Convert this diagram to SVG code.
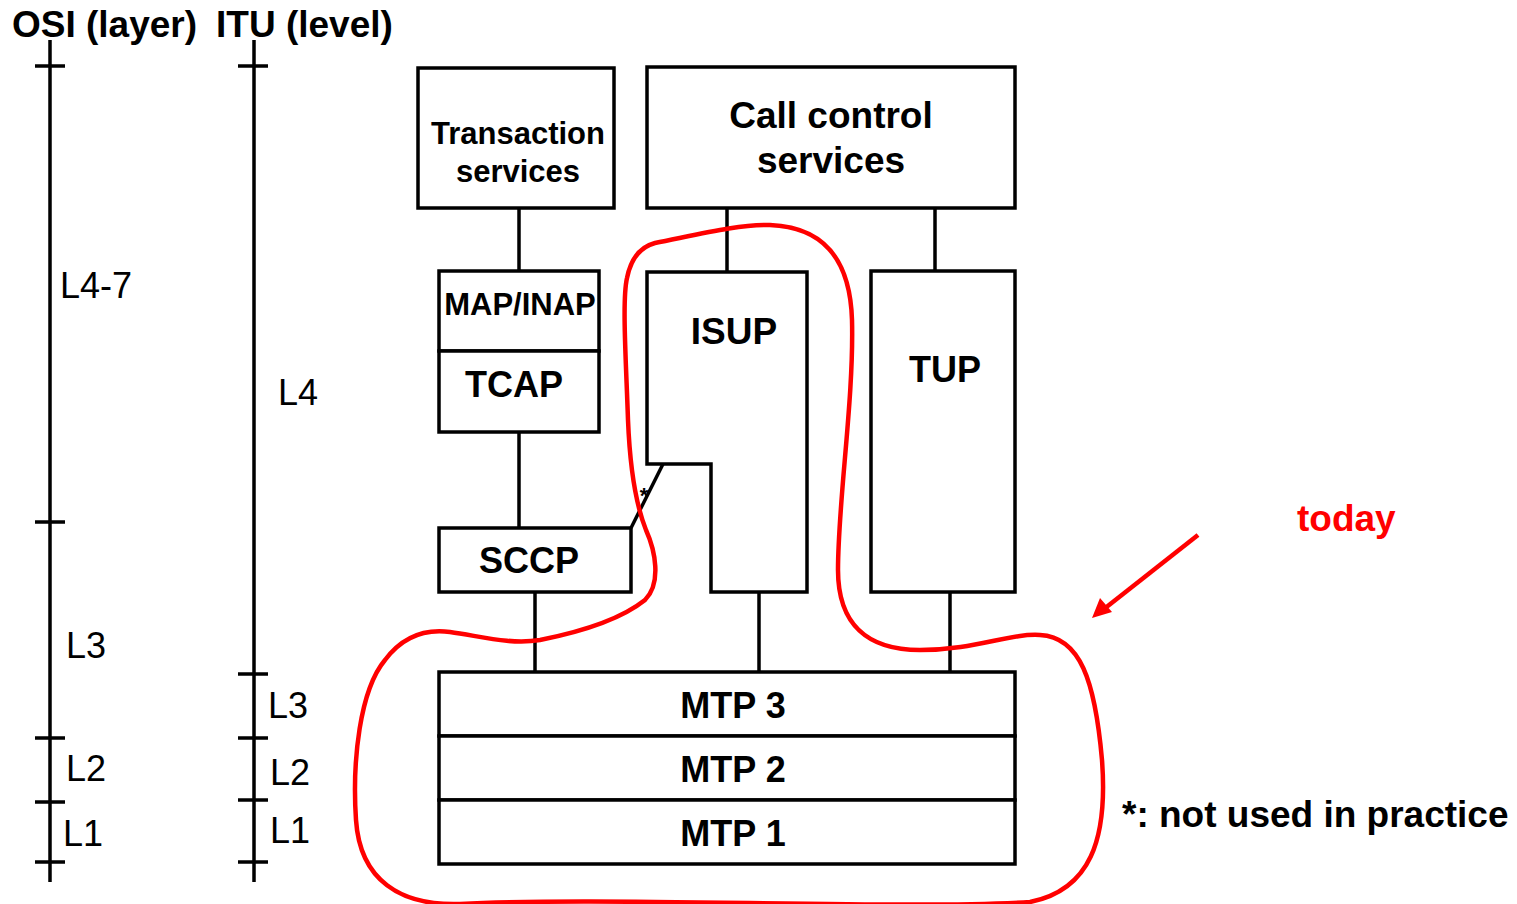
<svg xmlns="http://www.w3.org/2000/svg" width="1517" height="904" viewBox="0 0 1517 904">
<defs>
<style>
.b{fill:#fff;stroke:#000;stroke-width:3.5}
.ln{stroke:#000;stroke-width:3.5;fill:none}
.t{font-family:"Liberation Sans",Arial,sans-serif;font-weight:bold;fill:#000;text-anchor:middle}
.r{font-family:"Liberation Sans",Arial,sans-serif;fill:#000;font-size:36px}
.h{font-family:"Liberation Sans",Arial,sans-serif;font-weight:bold;fill:#000;font-size:37px}
</style>
</defs>
<rect width="1517" height="904" fill="#fff"/>
<g id="axes">
<text class="h" x="12" y="37">OSI (layer)</text>
<text class="h" x="216" y="37">ITU (level)</text>
<path class="ln" d="M50,40 V882 M35,66 H65 M35,522 H65 M35,738 H65 M35,802 H65 M35,862 H65"/>
<path class="ln" d="M254,40 V882 M238,66 H268 M238,674 H268 M238,738 H268 M238,800 H268 M238,862 H268"/>
<text class="r" x="60" y="298">L4-7</text>
<text class="r" x="66" y="658">L3</text>
<text class="r" x="66" y="781">L2</text>
<text class="r" x="63" y="846">L1</text>
<text class="r" x="278" y="405">L4</text>
<text class="r" x="268" y="718">L3</text>
<text class="r" x="270" y="785">L2</text>
<text class="r" x="270" y="843">L1</text>
</g>
<g id="connectors">
<path class="ln" d="M519,208 V271 M519,432 V528 M727,208 V272 M935,208 V271 M535,592 V672 M759,592 V672 M950,592 V672 M631,528 L663,464"/>
<text class="t" x="644" y="503" font-size="22">*</text>
</g>
<g id="transaction"><rect class="b" x="418" y="68" width="196" height="140"/><text class="t" x="518" y="144" font-size="31">Transaction</text><text class="t" x="518" y="182" font-size="31">services</text></g>
<g id="callcontrol"><rect class="b" x="647" y="67" width="368" height="141"/><text class="t" x="831" y="128" font-size="37">Call control</text><text class="t" x="831" y="173" font-size="37">services</text></g>
<g id="mapinap"><rect class="b" x="439" y="271" width="160" height="80"/><text class="t" x="520" y="315" font-size="31">MAP/INAP</text></g>
<g id="tcap"><rect class="b" x="439" y="351" width="160" height="81"/><text class="t" x="514" y="397" font-size="36">TCAP</text></g>
<g id="sccp"><rect class="b" x="439" y="528" width="192" height="64"/><text class="t" x="529" y="573" font-size="36">SCCP</text></g>
<g id="isup"><path class="b" d="M647,272 H807 V592 H711 V464 H647 Z"/><text class="t" x="734" y="344" font-size="37">ISUP</text></g>
<g id="tup"><rect class="b" x="871" y="271" width="144" height="321"/><text class="t" x="945" y="382" font-size="36">TUP</text></g>
<g id="mtp3"><rect class="b" x="439" y="672" width="576" height="64"/><text class="t" x="733" y="718" font-size="36">MTP 3</text></g>
<g id="mtp2"><rect class="b" x="439" y="736" width="576" height="64"/><text class="t" x="733" y="782" font-size="36">MTP 2</text></g>
<g id="mtp1"><rect class="b" x="439" y="800" width="576" height="64"/><text class="t" x="733" y="846" font-size="36">MTP 1</text></g>
<g id="today">
<path d="M655,243 C700,234 740,224 770,225 C820,227 850,255 852,320 C854,400 838,500 838,570 C838,625 868,650 920,650 C975,650 1010,633 1040,635 C1080,637 1095,680 1102,760 C1108,840 1090,890 1030,902 C900,910 600,896 460,904 C400,906 360,880 356,820 C352,760 360,690 385,660 C400,640 420,628 450,632 C480,636 510,645 540,640 C580,632 620,620 645,600 C662,583 655,550 646,530 C636,505 630,470 628,420 C626,360 622,300 627,278 C631,258 640,247 655,243 Z" fill="none" stroke="#f00" stroke-width="4.5"/>
<path d="M1198,535 L1104,609" stroke="#f00" stroke-width="4.5" fill="none"/>
<path d="M1092,618 L1100,598 L1112,612 Z" fill="#f00"/>
<text class="h" x="1297" y="531" style="fill:#f00">today</text>
</g>
<text class="h" x="1122" y="827">*: not used in practice</text>
</svg>
